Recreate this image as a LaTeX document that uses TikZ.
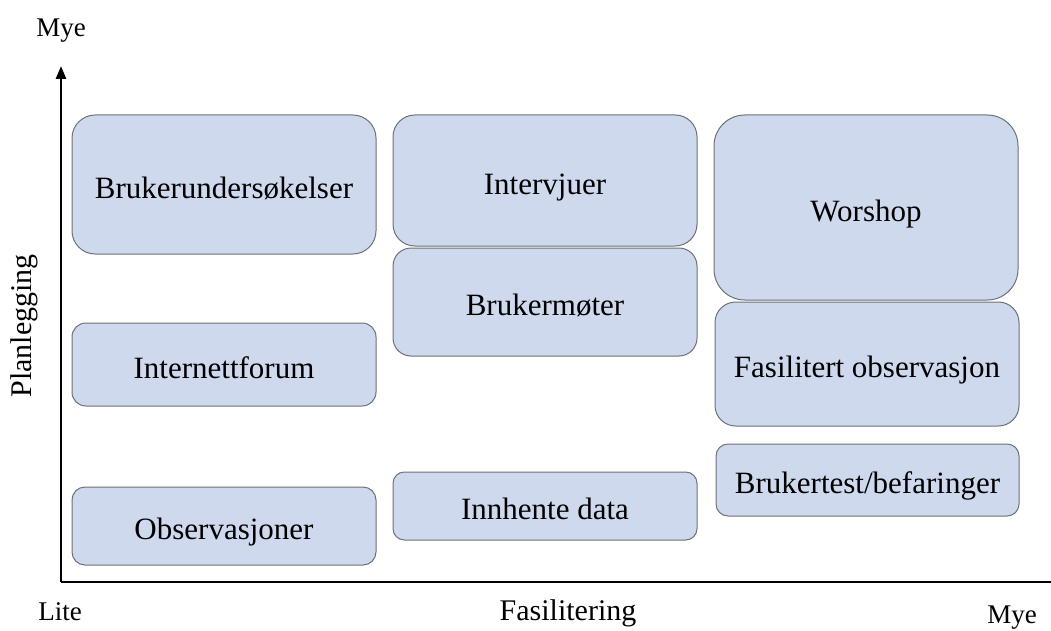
\documentclass[tikz,border=0pt]{standalone}
\usepackage{fontspec}
\setmainfont{Liberation Serif}
\usetikzlibrary{arrows.meta}
\definecolor{boxfill}{HTML}{CFD9EE}
\definecolor{boxline}{HTML}{6E7078}
\tikzset{
  cell/.style={draw=boxline, line width=1pt, fill=boxfill, inner sep=0pt,
    text height=27pt, text depth=0pt,
    font=\fontsize{31}{36}\selectfont},
  axis/.style={line width=2.7pt, black},
  axlabel/.style={inner sep=0pt, font=\fontsize{30}{34}\selectfont},
  endlabel/.style={inner sep=0pt, font=\fontsize{27}{31}\selectfont}
}
% cell with corners (x1,y1) to (x2,y2) in pixel units, radius = height/6
\newcommand{\cellbox}[6]{%
  \pgfmathsetmacro{\cw}{#4-#2}%
  \pgfmathsetmacro{\ch}{#5-#3}%
  \pgfmathsetmacro{\cr}{\ch/6}%
  \node[cell, minimum width=\cw pt, minimum height=\ch pt, rounded corners=\cr pt]
    (#1) at ({(#2+#4)/2},{(#3+#5)/2}) {#6};}
\begin{document}
\begin{tikzpicture}[x=1pt, y=-1pt]
\useasboundingbox (0,0) rectangle (1051,631);

% axes
\coordinate (origin) at (61,582);
\coordinate (ytop) at (61,66);
\coordinate (xend) at (1051,582);
\draw[axis, -{Triangle[length=13pt, width=10pt]}] (origin) -- (ytop);
\draw[axis] (origin) -- (xend);

% axis labels
\node[endlabel] (ymax) at (61,31) {Mye};
\node[endlabel] (xmin) at (60,612) {Lite};
\node[endlabel] (xmax) at (1012,618) {Mye};
\node[axlabel] (xlab) at (568,613) {Fasilitering};
\node[axlabel, rotate=90] (ylab) at (24,326) {Planlegging};

% first column
\cellbox{c1}{72}{115}{376}{254}{Brukerundersøkelser}
\cellbox{c2}{72}{323}{376}{406}{Internettforum}
\cellbox{c3}{72}{487}{376}{565}{Observasjoner}

% second column
\cellbox{c4}{393}{115}{697}{246}{Intervjuer}
\cellbox{c5}{393}{248}{697}{356}{Brukermøter}
\cellbox{c6}{393}{472}{697}{540}{Innhente data}

% third column
\cellbox{c7}{714}{115}{1018}{300}{Worshop}
\cellbox{c8}{715}{302}{1019}{426}{Fasilitert observasjon}
\cellbox{c9}{716}{444}{1019}{516}{Brukertest/befaringer}
\end{tikzpicture}
\end{document}
